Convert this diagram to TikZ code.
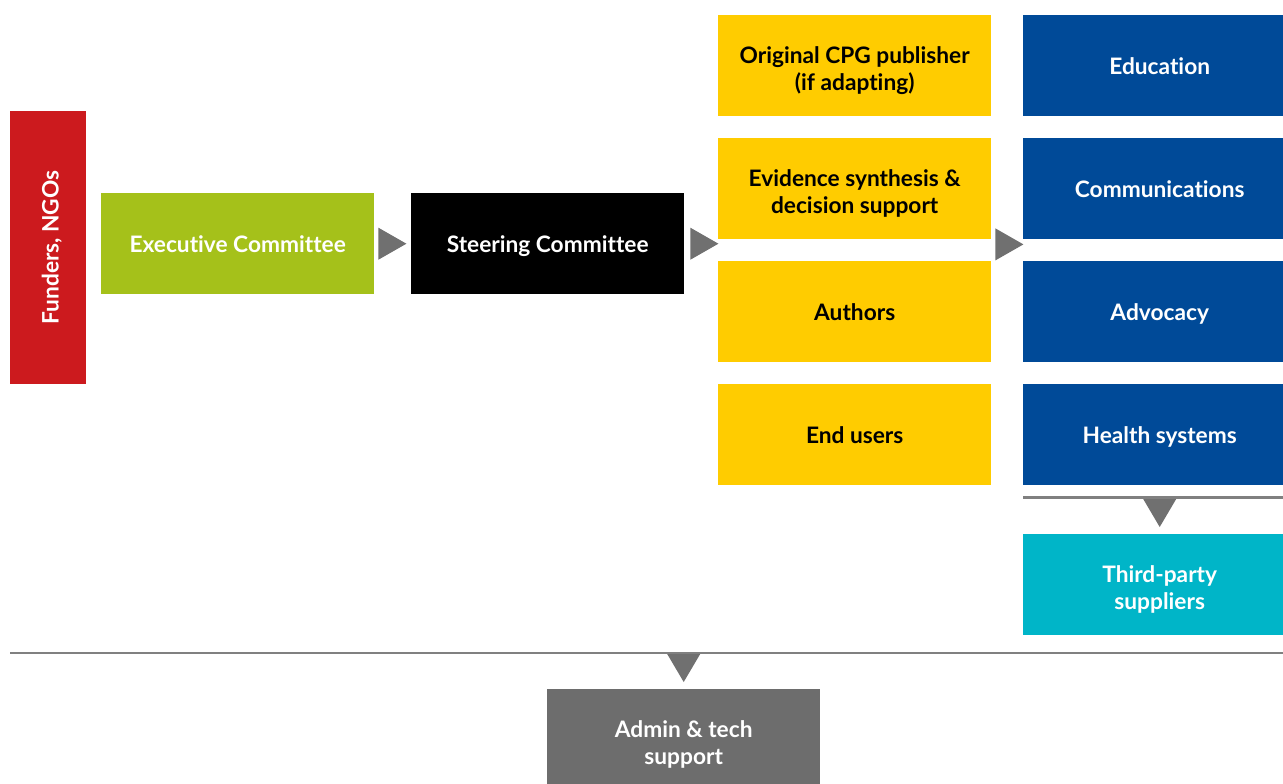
\documentclass[tikz,border=0pt]{standalone}
\usepackage{fontspec}
\setmainfont{Lato}[Ligatures={NoCommon,NoRare}]
\usetikzlibrary{calc}
\definecolor{fundred}{HTML}{CC1A1E}
\definecolor{execgreen}{HTML}{A5C11A}
\definecolor{cpgyellow}{HTML}{FFCC00}
\definecolor{deptblue}{HTML}{004A98}
\definecolor{supteal}{HTML}{00B5C8}
\definecolor{admingray}{HTML}{6D6D6D}
\definecolor{tipgray}{HTML}{707070}
\definecolor{rulegray}{HTML}{808080}
% line struts so every label sits on the same baseline grid
\newcommand\onestrut{\rule[-4pt]{0pt}{25pt}}
\newcommand\topstrut{\rule{0pt}{27pt}}
\newcommand\botstrut{\rule[-5pt]{0pt}{0pt}}
\tikzset{
  box/.style={draw=none, inner sep=0pt, anchor=north west, align=center,
    minimum width=273pt, minimum height=101pt, text=white,
    font=\fontsize{22.7}{27}\selectfont\bfseries},
  ybox/.style={box, fill=cpgyellow, text=black},
  bbox/.style={box, fill=deptblue},
  tip/.style={fill=tipgray, draw=none},
  rule/.style={draw=rulegray, line width=2.6pt}
}
\begin{document}
\begin{tikzpicture}[x=1pt, y=-1pt]
\clip (0,0) rectangle (1283,784);
\fill[white] (0,0) rectangle (1283,784);

% governance chain
\node[box, fill=fundred, anchor=center, rotate=90, minimum width=273pt, minimum height=76pt]
  (fund) at (48,247.5) {\rule[-4pt]{0pt}{29pt}Funders, NGOs};
\node[box, fill=execgreen] (exec) at (101,193) {\onestrut Executive Committee};
\node[box, fill=black] (steer) at (411,193) {\onestrut Steering Committee};

% guideline groups
\node[ybox] (cpg)  at (718,15)  {\topstrut Original CPG publisher\\(if adapting)\botstrut};
\node[ybox] (evid) at (718,138) {\topstrut Evidence synthesis \&\\decision support\botstrut};
\node[ybox] (auth) at (718,261) {\onestrut Authors};
\node[ybox] (endu) at (718,384) {\onestrut End users};

% implementation groups
\node[bbox] (edu)  at (1023,15)  {\onestrut Education};
\node[bbox] (comm) at (1023,138) {\onestrut Communications};
\node[bbox] (advo) at (1023,261) {\onestrut Advocacy};
\node[bbox] (hsys) at (1023,384) {\onestrut Health systems};
\node[box, fill=supteal] (third) at (1023,534) {\topstrut Third-party\\suppliers\botstrut};

\node[box, fill=admingray] (admin) at (547,689) {\topstrut Admin \& tech\\support\botstrut};

% right-pointing arrowheads between columns
\fill[tip] ($(exec.east)+(4,-16)$) -- ++(28,16) -- ++(-28,16) -- cycle;
\fill[tip] ($(steer.east)+(6,-16)$) -- ++(28,16) -- ++(-28,16) -- cycle;
\fill[tip] ($(evid.south east)+(4,-11)$) -- ++(28,16) -- ++(-28,16) -- cycle;

% rule under health systems, feeding third-party suppliers
\coordinate (hl) at ($(hsys.south west)+(0,12)$);
\coordinate (hr) at ($(hsys.south east)+(0,12)$);
\draw[rule] (hl) -- (hr);
\fill[tip] ($(third.north)+(-16.5,-35)$) -- ++(33,0) -- ++(-16.5,28) -- cycle;

% rule across the base, feeding admin & tech support
\coordinate (bl) at (10,653);
\coordinate (br) at (1300,653);
\draw[rule] (bl) -- (br);
\fill[tip] ($(admin.north)+(-16.5,-35)$) -- ++(33,0) -- ++(-16.5,28) -- cycle;
\end{tikzpicture}
\end{document}
